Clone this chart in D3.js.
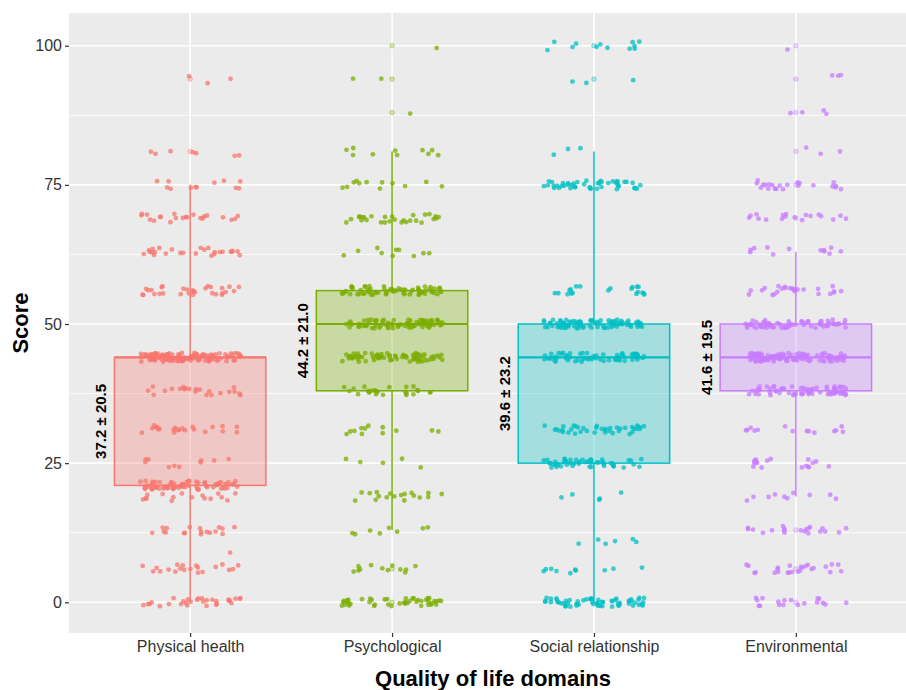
<!DOCTYPE html>
<html>
<head>
<meta charset="utf-8">
<script src="https://cdn.jsdelivr.net/npm/d3@7"></script>
<style>
  body { margin: 0; background: #fff; }
  svg { display: block; font-family: "Liberation Sans", Arial, sans-serif; }
</style>
</head>
<body>
<div id="chart"></div>
<script>
// domains and colours
const domains = ["Physical health", "Psychological", "Social relationship", "Environmental"];
const colors = ["#F8766D", "#7CAE00", "#00BFC4", "#C77CFF"];

const physLevels = [0, 6, 9, 13, 19, 21, 25, 31, 38, 44, 56, 63, 69, 75, 81, 94];
const physCounts = [30, 20, 1, 18, 16, 70, 10, 22, 22, 115, 30, 26, 22, 12, 7, 3];
const psychLevels = [0, 6, 13, 19, 25, 31, 38, 44, 50, 56, 63, 69, 75, 81, 88, 94, 100];
const psychCounts = [45, 12, 8, 18, 5, 12, 25, 75, 85, 70, 10, 28, 12, 10, 1, 2, 1];
const socialLevels = [0, 6, 11, 19, 25, 31, 44, 50, 56, 75, 81, 94, 100];
const socialCounts = [60, 10, 6, 5, 50, 40, 65, 90, 20, 45, 3, 3, 12];
const envLevels = [0, 6, 13, 19, 25, 31, 38, 44, 50, 56, 63, 69, 75, 81, 88, 94, 100];
const envCounts = [18, 25, 20, 10, 18, 14, 70, 105, 65, 25, 12, 18, 22, 3, 4, 3, 1];

// box statistics
const q1 = [21, 38, 25, 38];
const medians = [44, 50, 44, 44];
const q3 = [44, 56, 50, 50];
const whiskLow = [0, 13, 0, 19];
const whiskHigh = [75, 81, 81, 63];
const meanSd = ["37.2 \u00b1 20.5", "44.2 \u00b1 21.0", "39.6 \u00b1 23.2", "41.6 \u00b1 19.5"];

const yTicks = [0, 25, 50, 75, 100];
const yMinor = [12.5, 37.5, 62.5, 87.5];

const levelSets = [physLevels, psychLevels, socialLevels, envLevels];
const countSets = [physCounts, psychCounts, socialCounts, envCounts];

const width = 906, height = 690;
const panel = { left: 69, top: 13, right: 917, bottom: 633 };

const svg = d3.select("#chart").append("svg")
    .attr("width", width)
    .attr("height", height);

const x = d3.scalePoint()
    .domain(domains)
    .range([panel.left, panel.right])
    .padding(0.6);
const step = x.step();

const y = d3.scaleLinear()
    .domain([-5.52, 105.88])
    .range([panel.bottom, panel.top]);

// panel background + grid
svg.append("rect")
    .attr("x", panel.left).attr("y", panel.top)
    .attr("width", panel.right - panel.left)
    .attr("height", panel.bottom - panel.top)
    .attr("fill", "#EBEBEB");

const grid = svg.append("g");
grid.selectAll("line.minor").data(yMinor).join("line")
    .attr("class", "minor")
    .attr("x1", panel.left).attr("x2", panel.right)
    .attr("y1", d => y(d)).attr("y2", d => y(d))
    .attr("stroke", "#fff").attr("stroke-width", 0.8);
grid.selectAll("line.major").data(yTicks).join("line")
    .attr("class", "major")
    .attr("x1", panel.left).attr("x2", panel.right)
    .attr("y1", d => y(d)).attr("y2", d => y(d))
    .attr("stroke", "#fff").attr("stroke-width", 1.6);
grid.selectAll("line.vmajor").data(domains).join("line")
    .attr("class", "vmajor")
    .attr("x1", d => x(d)).attr("x2", d => x(d))
    .attr("y1", panel.top).attr("y2", panel.bottom)
    .attr("stroke", "#fff").attr("stroke-width", 1.6);

// boxes
const boxW = step * 0.75;
const boxes = svg.append("g");
domains.forEach((d, i) => {
    const cx = x(d);
    const g = boxes.append("g");
    const col = colors[i];
    g.append("line")
        .attr("x1", cx).attr("x2", cx)
        .attr("y1", y(q3[i])).attr("y2", y(whiskHigh[i]))
        .attr("stroke", col).attr("stroke-width", 1.5);
    g.append("line")
        .attr("x1", cx).attr("x2", cx)
        .attr("y1", y(q1[i])).attr("y2", y(whiskLow[i]))
        .attr("stroke", col).attr("stroke-width", 1.5);
    g.append("rect")
        .attr("x", cx - boxW / 2).attr("y", y(q3[i]))
        .attr("width", boxW).attr("height", y(q1[i]) - y(q3[i]))
        .attr("fill", col).attr("fill-opacity", 0.3)
        .attr("stroke", col).attr("stroke-width", 1.5);
    g.append("line")
        .attr("x1", cx - boxW / 2).attr("x2", cx + boxW / 2)
        .attr("y1", y(medians[i])).attr("y2", y(medians[i]))
        .attr("stroke", col).attr("stroke-width", 2.2);

    // outliers, drawn at the box centre
    const outs = levelSets[i].filter(v => v < whiskLow[i] || v > whiskHigh[i]);
    g.selectAll("circle.out").data(outs).join("circle")
        .attr("class", "out")
        .attr("cx", cx).attr("cy", v => y(v)).attr("r", 2.3)
        .attr("fill", col).attr("fill-opacity", 0.3)
        .attr("stroke", col).attr("stroke-opacity", 0.5).attr("stroke-width", 0.8);
});

// jittered points, fixed seed so the picture is stable (like set.seed + geom_jitter)
const jitter = d3.randomLcg(0.4213);
const pts = [];
domains.forEach((d, i) => {
    levelSets[i].forEach((lv, j) => {
        for (let k = 0; k < countSets[i][j]; k++) {
            pts.push({
                domain: d,
                color: colors[i],
                value: lv,
                dx: (jitter() * 2 - 1) * 0.25,
                dy: (jitter() * 2 - 1) * 0.8
            });
        }
    });
});
svg.append("g").selectAll("circle").data(pts).join("circle")
    .attr("cx", p => x(p.domain) + p.dx * step)
    .attr("cy", p => y(p.value + p.dy))
    .attr("r", 2.4)
    .attr("fill", p => p.color)
    .attr("fill-opacity", 0.75);

// mean ± sd labels, left of each box
svg.append("g").selectAll("text").data(domains).join("text")
    .attr("transform", (d, i) =>
        `translate(${x(d) - boxW / 2 - 14},${y((q1[i] + q3[i]) / 2)}) rotate(-90)`)
    .attr("text-anchor", "middle")
    .attr("dominant-baseline", "central")
    .attr("font-size", 15)
    .attr("font-weight", "bold")
    .attr("fill", "#000")
    .text((d, i) => meanSd[i]);

// axes
const yAxis = svg.append("g")
    .attr("transform", `translate(${panel.left},0)`)
    .call(d3.axisLeft(y).tickValues(yTicks).tickSize(4).tickPadding(3).tickFormat(d3.format("d")));
yAxis.select(".domain").remove();
yAxis.selectAll(".tick line").attr("stroke", "#333").attr("stroke-width", 1.2);
yAxis.selectAll(".tick text").attr("font-size", 16).attr("fill", "#333")
    .attr("font-family", "'Liberation Sans', Arial, sans-serif");

const xAxis = svg.append("g")
    .attr("transform", `translate(0,${panel.bottom})`)
    .call(d3.axisBottom(x).tickSize(4).tickPadding(4));
xAxis.select(".domain").remove();
xAxis.selectAll(".tick line").attr("stroke", "#333").attr("stroke-width", 1.2);
xAxis.selectAll(".tick text").attr("font-size", 16).attr("fill", "#333")
    .attr("font-family", "'Liberation Sans', Arial, sans-serif");

// axis titles
svg.append("text")
    .attr("transform", `translate(20,${(panel.top + panel.bottom) / 2}) rotate(-90)`)
    .attr("text-anchor", "middle")
    .attr("dominant-baseline", "central")
    .attr("font-size", 22).attr("font-weight", "bold")
    .text("Score");

svg.append("text")
    .attr("x", (panel.left + panel.right) / 2)
    .attr("y", 686)
    .attr("text-anchor", "middle")
    .attr("font-size", 22).attr("font-weight", "bold")
    .text("Quality of life domains");
</script>
</body>
</html>
